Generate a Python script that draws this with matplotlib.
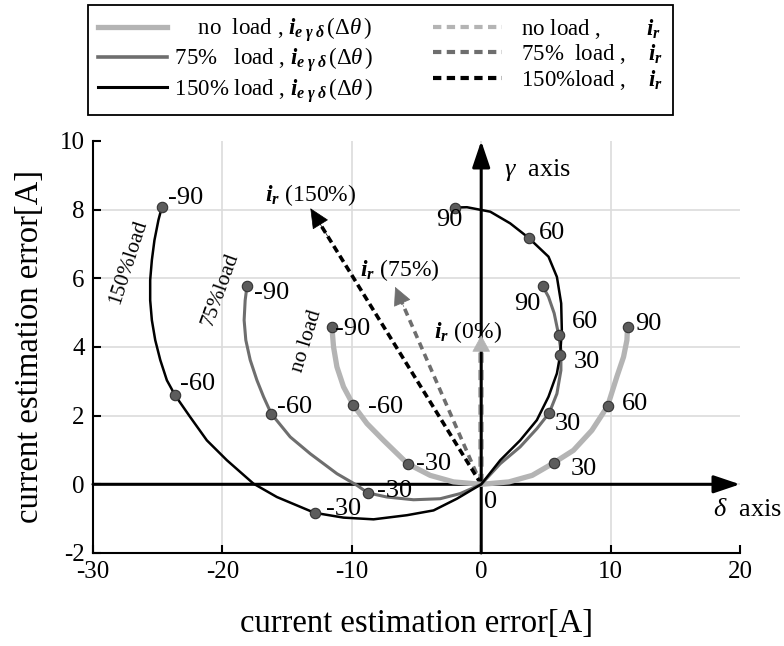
import matplotlib.pyplot as plt
from matplotlib.lines import Line2D

plt.rcParams['font.family'] = ['Liberation Serif', 'DejaVu Serif']
plt.rcParams['axes.unicode_minus'] = False
plt.rcParams['mathtext.fontset'] = 'custom'
plt.rcParams['mathtext.rm'] = 'Liberation Serif'
plt.rcParams['mathtext.it'] = 'Liberation Serif:italic'
plt.rcParams['mathtext.bf'] = 'Liberation Serif:bold'
plt.rcParams['mathtext.bfit'] = 'Liberation Serif:bold:italic'

# error locus (delta, gamma) [A] while the phase error sweeps -90..90 deg
noload_d = [-11.54, -11.41, -11.15, -10.64, -9.87, -8.83, -7.55, -5.69, -3.94, -2.14, 0.0,
            2.14, 3.94, 5.59, 7.13, 8.55, 9.76, 10.48, 11.0, 11.26, 11.31]
noload_g = [4.59, 4.0, 3.42, 2.84, 2.30, 1.77, 1.28, 0.60, 0.26, 0.07, 0.0,
            0.07, 0.26, 0.62, 0.99, 1.57, 2.27, 3.13, 3.71, 4.2, 4.59]

load75_d = [-18.1, -18.24, -18.32, -18.19, -17.85, -17.33, -16.82, -16.23, -14.76, -13.21,
            -11.15, -9.6, -8.76, -7.29, -5.23, -3.17, -1.62, 0.0,
            1.47, 3.01, 4.3, 5.26, 5.85, 6.16, 6.16, 5.98, 5.64, 5.2, 4.74]
load75_g = [5.77, 5.36, 4.78, 4.20, 3.62, 3.03, 2.55, 2.06, 1.38, 0.89,
            0.31, -0.03, -0.25, -0.37, -0.45, -0.42, -0.27, 0.0,
            0.60, 1.09, 1.62, 2.08, 2.64, 3.32, 3.91, 4.36, 4.98, 5.46, 5.78]

load150_d = [-24.68, -24.94, -25.25, -25.45, -25.58, -25.58, -25.45, -25.19, -24.8, -24.29,
             -23.65, -22.49, -21.2, -19.65, -17.6, -15.79, -12.88, -10.64, -8.32, -5.74,
             -3.68, -1.88, 0.0, 1.47, 3.01, 4.3, 5.2, 5.85, 6.1, 6.23, 6.18, 5.85, 5.2,
             3.66, 2.24, 0.7, -1.1, -2.0]
load150_g = [8.07, 7.70, 7.11, 6.53, 5.95, 5.36, 4.78, 4.20, 3.62, 3.03,
             2.59, 1.96, 1.28, 0.70, 0.02, -0.37, -0.83, -0.97, -1.02, -0.90,
             -0.76, -0.42, 0.0, 0.70, 1.28, 1.87, 2.55, 3.23, 3.76, 4.49, 5.27, 6.04, 6.63,
             7.18, 7.6, 7.94, 8.07, 8.06]

# marked phase errors [deg] and their points
mark_deg = [-90, -60, -30, 30, 60, 90]
noload_mark_d = [-11.54, -9.87, -5.69, 5.59, 9.76, 11.31]
noload_mark_g = [4.59, 2.30, 0.60, 0.62, 2.27, 4.59]
load75_mark_d = [-18.1, -16.23, -8.76, 5.26, 5.98, 4.74]
load75_mark_g = [5.77, 2.06, -0.25, 2.08, 4.36, 5.78]
load150_mark_d = [-24.68, -23.65, -12.88, 6.1, 3.66, -2.0]
load150_mark_g = [8.07, 2.59, -0.83, 3.76, 7.18, 8.06]

# rotor current vectors i_r (delta, gamma) [A]
ir_d = [0.0, -6.65, -13.2]
ir_g = [4.34, 5.75, 8.04]
ir_names = ['0%', '75%', '150%']

c_no, c_75, c_150 = '#b4b4b4', '#6e6e6e', 'black'

fig = plt.figure(figsize=(7.84, 6.46), dpi=100)
ax = fig.add_axes([0.1186, 0.144, 0.8253, 0.6378])
ax.set_xlim(-30, 20)
ax.set_ylim(-2, 10)
ax.set_xticks([-30, -20, -10, 0, 10, 20])
ax.set_yticks([-2, 0, 2, 4, 6, 8, 10])
ax.grid(True, color='#dcdcdc', lw=1.2)
ax.xaxis.get_gridlines()[-1].set_visible(False)
ax.yaxis.get_gridlines()[-1].set_visible(False)
ax.set_axisbelow(True)
for s in ['top', 'right']:
    ax.spines[s].set_visible(False)
for s in ['left', 'bottom']:
    ax.spines[s].set_linewidth(1.5)
ax.tick_params(direction='in', length=6, width=1.5, labelsize=18, pad=6)

# delta / gamma axes
arrow_axis = dict(arrowstyle='-|>,head_length=0.8,head_width=0.27', color='black',
                  lw=2.2, mutation_scale=20, shrinkA=0, shrinkB=0)
ax.annotate('', xy=(20, 0), xytext=(-30, 0), arrowprops=arrow_axis, annotation_clip=False)
ax.annotate('', xy=(0, 10), xytext=(0, -2), arrowprops=arrow_axis, annotation_clip=False)
ax.text(4.33, 9.15, r'$\mathit{\gamma}$  axis', fontsize=19, ha='center', va='center')
ax.text(20.55, -0.76, r'$\mathit{\delta}$  axis', fontsize=19, ha='center', va='center',
        clip_on=False)

# i_r vectors: dashed shaft plus a solid head
ir_colors = [c_no, c_75, c_150]
ir_lw = [4.3, 2.6, 2.6]
ir_dash = [(0, (1.7, 1.2)), (0, (2.0, 1.4)), (0, (2.0, 1.15))]
ir_head = [0.55, 0.6, 0.65]
for d, g, col, lw, ls, hl in zip(ir_d, ir_g, ir_colors, ir_lw, ir_dash, ir_head):
    ax.plot([0, d * 0.95], [0, g * 0.95], color=col, lw=lw, ls=ls, zorder=2)
    ax.annotate('', xy=(d, g), xytext=(d * 0.9, g * 0.9),
                arrowprops=dict(arrowstyle='-|>,head_length=%.2f,head_width=0.3' % hl,
                                mutation_scale=20, shrinkA=0, shrinkB=0,
                                color=col, lw=0.5))
ir_text_pos = [(-1.04, 4.43), (-6.26, 6.24), (-13.14, 8.43)]
for (tx, ty), name in zip(ir_text_pos, ir_names):
    ax.text(tx, ty, r'$\mathbfit{i}_{\mathbfit{r}}$' + ' (' + name + ')', fontsize=17,
            ha='center', va='center')

# loci
ax.plot(noload_d, noload_g, color=c_no, lw=3.8, solid_capstyle='round', zorder=3)
ax.plot(load75_d, load75_g, color=c_75, lw=2.2, zorder=3)
ax.plot(load150_d, load150_g, color=c_150, lw=1.8, zorder=3)

mk = dict(ls='none', marker='o', ms=7.5, mfc='#5c5c5c', mec='#333333', mew=0.8, zorder=4)
ax.plot(noload_mark_d, noload_mark_g, **mk)
ax.plot(load75_mark_d, load75_mark_g, **mk)
ax.plot(load150_mark_d, load150_mark_g, **mk)

# label offsets in points for each marked angle
off_no = [(15, -2), (23, -1), (19, 0), (22, -4), (20, 1.5), (15, 2)]
off_75 = [(18, -5), (17, 5), (19, 1.5), (13, -8), (19, 9), (-11, -13)]
off_150 = [(17, 6.5), (16, 8), (21, 3), (19, -5), (17, 3.5), (-4, -9)]
for xs, ys, offs in [(noload_mark_d, noload_mark_g, off_no),
                     (load75_mark_d, load75_mark_g, off_75),
                     (load150_mark_d, load150_mark_g, off_150)]:
    for deg, x, y, o in zip(mark_deg, xs, ys, offs):
        ax.annotate(str(deg), xy=(x, y), xytext=o, textcoords='offset points',
                    fontsize=19, ha='center', va='center', zorder=5)
ax.annotate('0', xy=(0, 0), xytext=(6.5, -13), textcoords='offset points',
            fontsize=19, ha='center', va='center')

ax.text(-27.25, 6.46, '150%load', fontsize=15.5, rotation=72, ha='center', va='center')
ax.text(-20.12, 5.68, '75%load', fontsize=15.5, rotation=70, ha='center', va='center')
ax.text(-13.47, 4.18, 'no load', fontsize=15.5, rotation=73, ha='center', va='center')

ax.set_xlabel('current estimation error[A]', fontsize=23.5, va='center')
ax.set_ylabel('current estimation error[A]', fontsize=23.5, va='center')
ax.xaxis.set_label_coords(0.5, -0.172)
ax.yaxis.set_label_coords(-0.097, 0.5)

ieg = r'$\mathbfit{i}_{\mathbfit{e\;\gamma\;\delta}}\,(\mathit{\Delta\theta}\,)$'
irr = r'$\mathbfit{i}_{\mathbfit{r}}$'
handles = [Line2D([], [], color=c_no, lw=3.8),
           Line2D([], [], color=c_75, lw=2.6),
           Line2D([], [], color=c_150, lw=2.2),
           Line2D([], [], color=c_no, lw=3.0, ls=(0, (2, 1.3))),
           Line2D([], [], color=c_75, lw=3.0, ls=(0, (2, 1.3))),
           Line2D([], [], color=c_150, lw=3.0, ls=(0, (2, 1.3)))]
labels = ['     no  load , ' + ieg,
          ' 75%   load , ' + ieg,
          ' 150% load , ' + ieg,
          '   no load ,        ' + irr,
          '   75%  load ,    ' + irr,
          '   150%load ,    ' + irr]
leg = fig.legend(handles, labels, loc='upper center', bbox_to_anchor=(0.4853, 0.992),
                 ncol=2, fontsize=16.5, frameon=True, fancybox=False, framealpha=1,
                 edgecolor='black', handlelength=3.0, handletextpad=0.1,
                 columnspacing=2.6, labelspacing=0.06, borderpad=0.45, borderaxespad=0)
leg.get_frame().set_linewidth(1.3)

fig.savefig('out.png', dpi=100)
